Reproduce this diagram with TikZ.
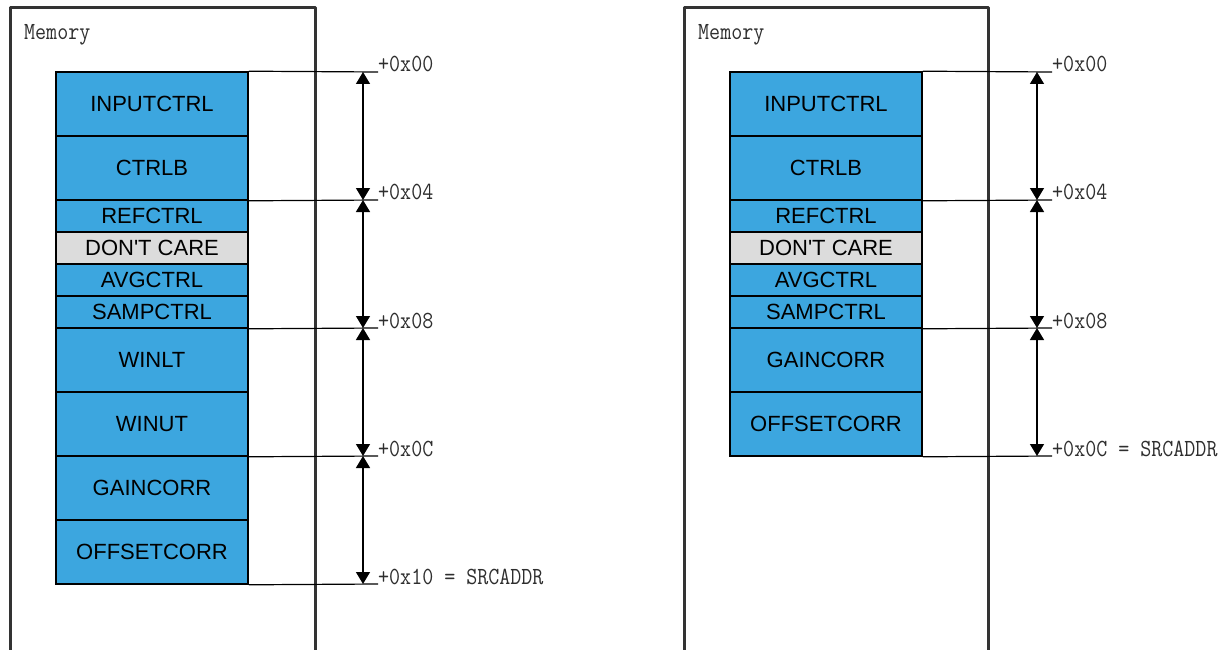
\documentclass[tikz,border=0pt]{standalone}
\usepackage{fontspec}
\usetikzlibrary{arrows.meta}
\newfontfamily\regfont{Liberation Sans}[Ligatures=TeXOff]
\definecolor{regblue}{HTML}{3CA6DF}
\definecolor{dcgray}{HTML}{DCDCDC}
\definecolor{framegray}{HTML}{333333}
\definecolor{lblgray}{HTML}{2E2E2E}
\tikzset{
  frameline/.style={draw=framegray, line width=3pt, line join=round},
  regblk/.style={draw=black, line width=1.6pt, fill=regblue, minimum width=192pt, inner sep=0pt, font=\fontsize{22}{24}\regfont, text=black},
  wordblk/.style={regblk, minimum height=64pt},
  byteblk/.style={regblk, minimum height=32pt},
  offline/.style={draw=black, line width=1.2pt},
  dimarrow/.style={draw=black, line width=1.3pt, {Triangle[width=14pt,length=12pt]}-{Triangle[width=14pt,length=12pt]}},
  offlbl/.style={anchor=base west, inner sep=0pt, font=\fontsize{21.4}{24}\ttfamily, text=lblgray, yscale=1.15, transform shape},
  memlbl/.style={anchor=base west, inner sep=0pt, font=\fontsize{21.4}{24}\ttfamily, text=lblgray, yscale=1.15, transform shape}
}
\begin{document}
\begin{tikzpicture}[x=1pt, y=-1pt]
\useasboundingbox (0,0) rectangle (1229,650);
% ---------- left panel ----------
\draw[frameline] (10,670) -- (10,8) -- (315,8) -- (315,670);
\coordinate (memLpos) at (24,40);
\node[memlbl] (memL) at (memLpos) {Memory};
\node[wordblk] (L1) at (152,104) {INPUTCTRL};
\node[wordblk] (L2) at (152,168) {CTRLB};
\node[byteblk] (L3) at (152,216) {REFCTRL};
\node[byteblk, fill=dcgray] (L4) at (152,248) {DON'T CARE};
\node[byteblk] (L5) at (152,280) {AVGCTRL};
\node[byteblk] (L6) at (152,312) {SAMPCTRL};
\node[wordblk] (L7) at (152,360) {WINLT};
\node[wordblk] (L8) at (152,424) {WINUT};
\node[wordblk] (L9) at (152,488) {GAINCORR};
\node[wordblk] (L10) at (152,552) {OFFSETCORR};
\coordinate (LE0) at (378,72);
\coordinate (LE1) at (378,200);
\coordinate (LE2) at (378,328);
\coordinate (LE3) at (378,456);
\coordinate (LE4) at (378,584);
\coordinate (LA0) at (363,72);
\coordinate (LA1) at (363,200);
\coordinate (LA2) at (363,328);
\coordinate (LA3) at (363,456);
\coordinate (LA4) at (363,584);
\draw[offline] (L1.north east) -- (LE0);
\draw[offline] (L2.south east) -- (LE1);
\draw[offline] (L6.south east) -- (LE2);
\draw[offline] (L8.south east) -- (LE3);
\draw[offline] (L10.south east) -- (LE4);
\draw[dimarrow] (LA0) -- (LA1);
\draw[dimarrow] (LA1) -- (LA2);
\draw[dimarrow] (LA2) -- (LA3);
\draw[dimarrow] (LA3) -- (LA4);
\node[offlbl] (LT0) at (LE0) {+0x00};
\node[offlbl] (LT1) at (LE1) {+0x04};
\node[offlbl] (LT2) at (LE2) {+0x08};
\node[offlbl] (LT3) at (LE3) {+0x0C};
\node[offlbl] (LT4) at (LE4) {+0x10 = SRCADDR};
% ---------- right panel ----------
\draw[frameline] (684,670) -- (684,8) -- (988,8) -- (988,670);
\coordinate (memRpos) at (698,40);
\node[memlbl] (memR) at (memRpos) {Memory};
\node[wordblk] (R1) at (826,104) {INPUTCTRL};
\node[wordblk] (R2) at (826,168) {CTRLB};
\node[byteblk] (R3) at (826,216) {REFCTRL};
\node[byteblk, fill=dcgray] (R4) at (826,248) {DON'T CARE};
\node[byteblk] (R5) at (826,280) {AVGCTRL};
\node[byteblk] (R6) at (826,312) {SAMPCTRL};
\node[wordblk] (R7) at (826,360) {GAINCORR};
\node[wordblk] (R8) at (826,424) {OFFSETCORR};
\coordinate (RE0) at (1052,72);
\coordinate (RE1) at (1052,200);
\coordinate (RE2) at (1052,328);
\coordinate (RE3) at (1052,456);
\coordinate (RA0) at (1037,72);
\coordinate (RA1) at (1037,200);
\coordinate (RA2) at (1037,328);
\coordinate (RA3) at (1037,456);
\draw[offline] (R1.north east) -- (RE0);
\draw[offline] (R2.south east) -- (RE1);
\draw[offline] (R6.south east) -- (RE2);
\draw[offline] (R8.south east) -- (RE3);
\draw[dimarrow] (RA0) -- (RA1);
\draw[dimarrow] (RA1) -- (RA2);
\draw[dimarrow] (RA2) -- (RA3);
\node[offlbl] (RT0) at (RE0) {+0x00};
\node[offlbl] (RT1) at (RE1) {+0x04};
\node[offlbl] (RT2) at (RE2) {+0x08};
\node[offlbl] (RT3) at (RE3) {+0x0C = SRCADDR};
\end{tikzpicture}
\end{document}
